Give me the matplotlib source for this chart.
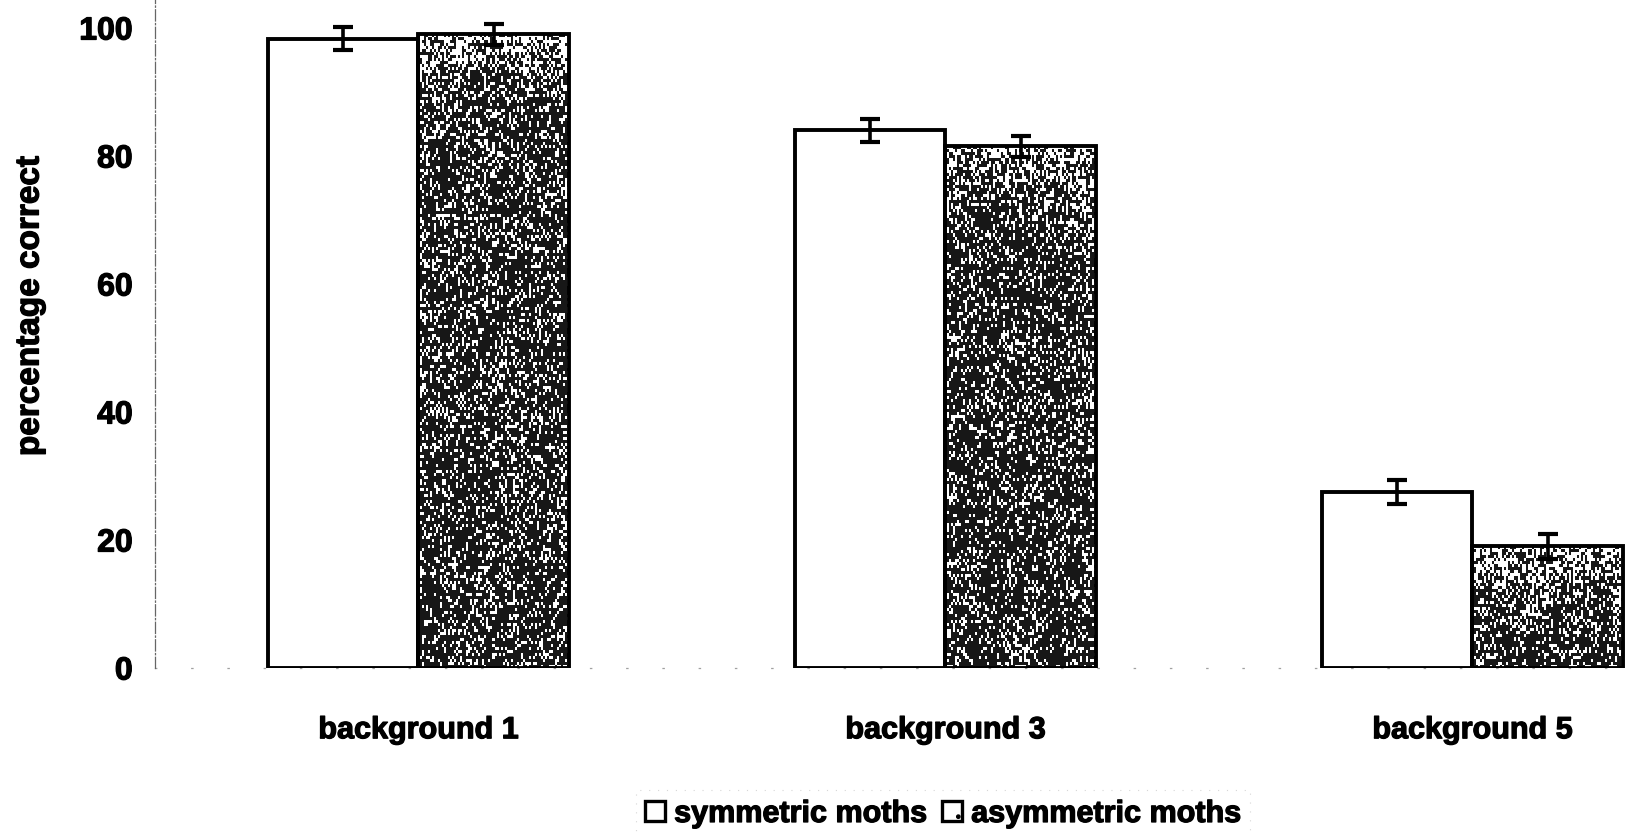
import numpy as np
import matplotlib
matplotlib.use("Agg")
import matplotlib.pyplot as plt
import matplotlib.patheffects as pe
from matplotlib.patches import Patch

plt.rcParams['font.family'] = ['Liberation Sans', 'DejaVu Sans']
plt.rcParams['font.weight'] = 'bold'

# Data
categories = ["background 1", "background 3", "background 5"]
symmetric = [98.3, 84.0, 27.5]
asymmetric = [99.0, 81.5, 19.0]
symmetric_err = [1.8, 1.8, 1.9]
asymmetric_err = [1.7, 1.7, 1.9]
series_names = ["symmetric moths", "asymmetric moths"]
y_ticks = [0, 20, 40, 60, 80, 100]

W, H, DPI = 1625, 834, 100
fig = plt.figure(figsize=(W / DPI, H / DPI), dpi=DPI)
fig.patch.set_facecolor("white")

heavy = [pe.withStroke(linewidth=0.9, foreground="black")]

# plot area: baseline at 668 px from top, 6.4 px per percent, 527 px per group
ax = fig.add_axes([155 / W, (H - 668) / H, 3 * 527 / W, 668 / H])
ax.set_xlim(-0.5, 2.5)
ax.set_ylim(0, 668 / 6.4)

x = np.arange(len(categories))
width = 0.285

ax.bar(x - width / 2, symmetric, width, facecolor="white", edgecolor="black",
       linewidth=2.8, zorder=2)
asym_bars = ax.bar(x + width / 2, asymmetric, width, facecolor="none",
                   edgecolor="black", linewidth=2.8, zorder=2)

# speckled print texture for the asymmetric bars (streaky vertical grain)
rng = np.random.default_rng(7)
for bar in asym_bars:
    x0, h = bar.get_x(), bar.get_height()
    x1 = x0 + bar.get_width()
    px_h = h * 6.4
    rows = max(int(px_h / 3), 4)
    cols = 75
    depth = (np.arange(rows)[:, None] + 0.5) * 3.0
    col = np.arange(cols)[None, :]
    edge = np.minimum(col, cols - 1 - col)
    # slow blotchy variation across the bar
    blot = rng.random((max(rows // 12, 2), 8))
    blot = np.kron(blot, np.ones((12, 10)))
    blot = np.pad(blot, ((0, max(rows - blot.shape[0], 0)),
                         (0, max(cols - blot.shape[1], 0))), mode="edge")[:rows, :cols]
    p_white = (0.16 + 0.14 * blot + 0.45 * np.exp(-depth / 35.0)
               + 0.3 * np.exp(-edge / 1.5))
    tex = (rng.random((rows, cols)) < p_white).astype(float)
    ax.imshow(tex, extent=(x0, x1, 0, h), cmap="gray", vmin=-0.1, vmax=1,
              interpolation="nearest", aspect="auto", zorder=1.5)

ax.errorbar(x - width / 2, symmetric, yerr=symmetric_err, fmt="none",
            ecolor="black", elinewidth=2.6, capsize=7, capthick=3, zorder=3)
ax.errorbar(x + width / 2, asymmetric, yerr=asymmetric_err, fmt="none",
            ecolor="black", elinewidth=2.6, capsize=7, capthick=3, zorder=3)

# axes styling
for side in ("top", "right"):
    ax.spines[side].set_visible(False)
ax.spines["left"].set_color("#666666")
ax.spines["left"].set_linewidth(0.9)
ax.spines["left"].set_linestyle((0, (9, 2, 1, 2)))
ax.spines["bottom"].set_color("#a0a0a0")
ax.spines["bottom"].set_linewidth(0.9)
ax.spines["bottom"].set_linestyle((0, (1, 28)))
ax.spines["bottom"].set_zorder(1)

ax.set_yticks(y_ticks)
ax.set_yticklabels([str(v) for v in y_ticks], fontsize=23, fontweight="bold")
ax.set_xticks(x)
ax.set_xticklabels(categories, fontsize=22, fontweight="bold")
ax.tick_params(axis="y", length=0, pad=16)
ax.tick_params(axis="x", length=0, pad=34)
for lbl in ax.get_yticklabels() + ax.get_xticklabels():
    lbl.set_path_effects(heavy)

fig.text(30 / W, 1 - 306 / H, "percentage correct", rotation=90,
         fontsize=24, fontweight="bold", ha="center", va="center",
         path_effects=heavy)

handles = [
    Patch(facecolor="white", edgecolor="black", linewidth=2.4),
    Patch(facecolor="white", edgecolor="black", linewidth=2.4, hatch="."),
]
leg = fig.legend(handles, series_names, loc="center",
                 bbox_to_anchor=(943 / W, 1 - 814 / H), ncol=2,
                 prop={"size": 22, "weight": "bold"},
                 handlelength=0.65, handleheight=0.65, handletextpad=0.3,
                 columnspacing=0.5, borderpad=0.3, frameon=True,
                 fancybox=False)
frame = leg.get_frame()
frame.set_edgecolor("#cccccc")
frame.set_linewidth(0.8)
frame.set_linestyle((0, (1, 7)))
for t in leg.get_texts():
    t.set_path_effects(heavy)

fig.savefig("out.png", dpi=DPI, facecolor="white")
